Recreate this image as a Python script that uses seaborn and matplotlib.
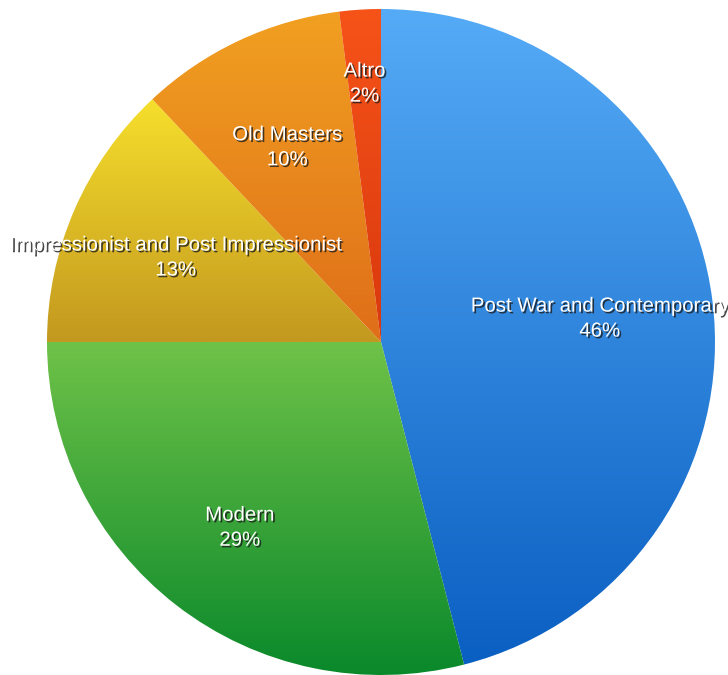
import numpy as np
import matplotlib
matplotlib.use("Agg")
import matplotlib.pyplot as plt
import matplotlib.patheffects as pe
import seaborn as sns

# Share of sales by collecting category
categories = ["Post War and Contemporary", "Modern",
              "Impressionist and Post Impressionist", "Old Masters", "Altro"]
shares = [46, 29, 13, 10, 2]

# Vertical gradient (top colour, bottom colour) for each slice
top_colors = ["#55abf6", "#6fc248", "#f6df2c", "#f1a021", "#f65319"]
bottom_colors = ["#0a5fc2", "#0a892b", "#c3981f", "#df6e19", "#d9380e"]

# Radial position of each label as a fraction of the radius
label_radius = [0.66, 0.69, 0.67, 0.66, 0.79]

sns.set_theme(style="white")
plt.rcParams["font.family"] = ["Liberation Sans", "DejaVu Sans"]

fig = plt.figure(figsize=(7.28, 6.75), dpi=100)
ax = fig.add_axes([47 / 728, 0.0, 668 / 728, 666 / 675])

wedges, _ = ax.pie(shares, startangle=90, counterclock=False,
                   radius=1.0, center=(0, 0),
                   wedgeprops=dict(linewidth=0, edgecolor="none"))

ax.set_xlim(-1, 1)
ax.set_ylim(-1, 1)
ax.set_aspect("auto")
ax.axis("off")

grad = np.linspace(0, 1, 256).reshape(-1, 1)
for w, c_top, c_bot in zip(wedges, top_colors, bottom_colors):
    cmap = sns.blend_palette([c_bot, c_top], n_colors=256, as_cmap=True)
    ext = w.get_path().get_extents()
    w.set_facecolor("none")
    im = ax.imshow(grad, cmap=cmap, origin="lower", aspect="auto",
                   extent=(ext.x0, ext.x1, ext.y0, ext.y1),
                   interpolation="bilinear", zorder=1)
    im.set_clip_path(w)

ax.set_xlim(-1, 1)
ax.set_ylim(-1, 1)

shadow = [pe.withSimplePatchShadow(offset=(1.2, -1.2), shadow_rgbFace="#1a1a1a",
                                   alpha=0.8)]
total = sum(shares)
for w, name, val, rr in zip(wedges, categories, shares, label_radius):
    mid = np.deg2rad((w.theta1 + w.theta2) / 2)
    x, y = rr * np.cos(mid), rr * np.sin(mid)
    ax.annotate(f"{name}\n{round(100 * val / total)}%", xy=(x, y),
                xytext=(0, -3), textcoords="offset points",
                ha="center", va="center", color="white", fontsize=14.7,
                linespacing=1.4, path_effects=shadow, zorder=5,
                annotation_clip=False)

fig.savefig("out.png", dpi=100)
